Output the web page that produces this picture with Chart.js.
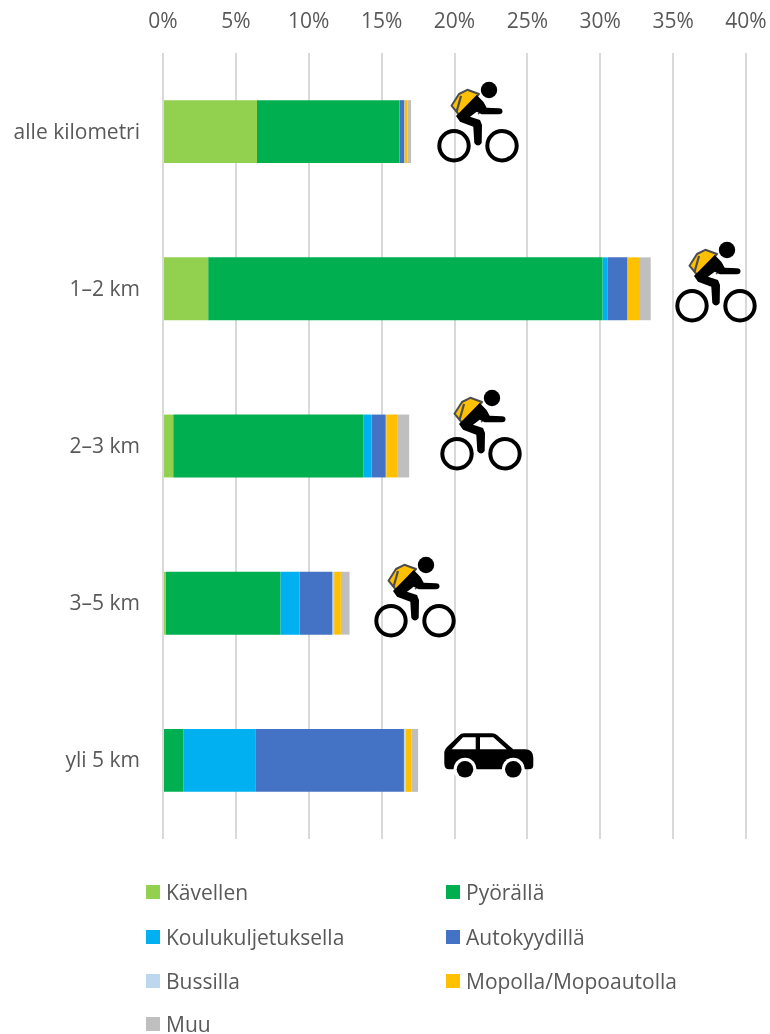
<!DOCTYPE html>
<html lang="fi">
<head>
<meta charset="utf-8">
<title>Koulumatkat</title>
<style>
html,body{margin:0;padding:0;background:#fff;overflow:hidden}
#wrap{position:relative;width:770px;height:1034px;overflow:hidden;font-family:"Open Sans",sans-serif}
canvas{position:absolute;left:0;top:0}
svg.ov{position:absolute;left:0;top:0;pointer-events:none}
.lg{position:absolute;font-size:21px;line-height:24px;color:#595959;white-space:nowrap}
.lg i{position:absolute;left:-20px;top:5px;width:14px;height:14px}
</style>
</head>
<body>
<div id="wrap">
<canvas id="c" width="770" height="1034"></canvas>
<svg class="ov" width="770" height="1034" viewBox="0 0 770 1034" aria-hidden="true">
  <defs>
    <g id="cyclist">
      <circle cx="489" cy="90" r="8.2" fill="#000"/>
      <circle cx="454" cy="145.7" r="14.7" fill="none" stroke="#000" stroke-width="4"/>
      <circle cx="502" cy="145.7" r="14.7" fill="none" stroke="#000" stroke-width="4"/>
      <path d="M484 104 Q485 110 478 114" fill="none" stroke="#595959" stroke-width="1.6"/>
      <path d="M451.5 105.7 L459 94 L467.3 89.8 L479 94 L460 116 Z" fill="#FFC000" stroke="#4d4d4d" stroke-width="2" stroke-linejoin="round"/>
      <path d="M461 96 L456.5 112" stroke="#4d4d4d" stroke-width="2.2" fill="none"/>
      <path d="M456 116 L476.7 95 L483.3 101.7 L486.7 107.7 L499 108.3 Q502.5 108.5 502.5 111.3 Q502.5 114.3 499 114.3 L481.7 114.3 L476.7 111.7 L470 116.7 L480 120 L482 125 L481.7 143 Q478 148 474.3 143 L473.3 126.7 L460 121.7 Z" fill="#000"/>
    </g>
    <g id="car">
      <path d="M444.3 763 L444.3 751.7 Q445 749 447 747 L459 735.5 Q461 733.3 464 733.3 L492 733.3 Q495 733.3 497 735 L513.3 749.3 L525 749.3 Q533.3 749.5 533.3 758 L533.3 765 Q533.3 769.3 529 769.3 L449 769.3 Q444.3 769.3 444.3 763 Z" fill="#000"/>
      <path d="M451.7 749.3 L463 737.3 L475.7 737.3 L475.7 749.3 Z M480 737.3 L493.3 737.3 L506.7 749.3 L480 749.3 Z" fill="#fff"/>
      <circle cx="465" cy="769.3" r="11.5" fill="#fff"/>
      <circle cx="513.3" cy="769.3" r="11.5" fill="#fff"/>
      <circle cx="465" cy="769.3" r="8.3" fill="#000"/>
      <circle cx="513.3" cy="769.3" r="8.3" fill="#000"/>
    </g>
  </defs>
  <use href="#cyclist"/>
  <use href="#cyclist" transform="translate(238 160)"/>
  <use href="#cyclist" transform="translate(3 308)"/>
  <use href="#cyclist" transform="translate(-63 475)"/>
  <use href="#car"/>
</svg>
<div id="legend"></div>
</div>
<script src="https://cdn.jsdelivr.net/npm/chart.js@4/dist/chart.umd.min.js"></script>
<script>
const categories = ["alle kilometri", "1–2 km", "2–3 km", "3–5 km", "yli 5 km"];
const kavellen = [6.45, 3.1, 0.7, 0.2, 0];
const pyoralla = [9.75, 27.05, 13.05, 7.85, 1.4];
const koulukuljetuksella = [0.05, 0.37, 0.57, 1.33, 4.93];
const autokyydilla = [0.3, 1.34, 0.96, 2.24, 10.2];
const bussilla = [0.02, 0.02, 0.03, 0.12, 0.1];
const mopolla = [0.2, 0.78, 0.8, 0.46, 0.41];
const muu = [0.25, 0.8, 0.78, 0.6, 0.46];
const seriesNames = ["Kävellen", "Pyörällä", "Koulukuljetuksella", "Autokyydillä", "Bussilla", "Mopolla/Mopoautolla", "Muu"];
const seriesColors = ["#92D050", "#00B050", "#00B0F0", "#4472C4", "#BDD7EE", "#FFC000", "#BFBFBF"];
const seriesValues = [kavellen, pyoralla, koulukuljetuksella, autokyydilla, bussilla, mopolla, muu];
const tickStep = 5;
const axisMax = 40;

const font = {family: '"Open Sans", sans-serif', size: 21};
new Chart(document.getElementById("c"), {
  type: "bar",
  data: {
    labels: categories,
    datasets: seriesNames.map((n, i) => ({
      label: n,
      data: seriesValues[i],
      backgroundColor: seriesColors[i],
      borderWidth: 0,
      categoryPercentage: 0.4,
      barPercentage: 1
    }))
  },
  options: {
    indexAxis: "y",
    responsive: false,
    animation: false,
    layout: {padding: {left: 0, right: 24, top: 0, bottom: 195}},
    plugins: {legend: {display: false}, tooltip: {enabled: false}},
    scales: {
      x: {
        position: "top",
        stacked: true,
        min: 0,
        max: axisMax,
        afterFit(s) { s.height = 53; s.paddingRight = 0; s.paddingLeft = 0; },
        border: {display: false},
        grid: {color: "#D9D9D9", lineWidth: 2, drawTicks: false},
        ticks: {stepSize: tickStep, color: "#595959", font, padding: 18, maxRotation: 0,
                callback: v => v + "%"}
      },
      y: {
        stacked: true,
        afterFit(s) { s.width = 163; },
        border: {display: false},
        grid: {display: false},
        ticks: {color: "#595959", font, padding: 15, labelOffset: 1}
      }
    }
  }
});

const rowY = [880, 925, 969, 1012];
const colX = [166, 466];
const legend = document.getElementById("legend");
seriesNames.forEach((n, i) => {
  const d = document.createElement("div");
  d.className = "lg";
  d.style.left = colX[i % 2] + "px";
  d.style.top = rowY[Math.floor(i / 2)] + "px";
  const sw = document.createElement("i");
  sw.style.background = seriesColors[i];
  d.appendChild(sw);
  d.appendChild(document.createTextNode(n));
  legend.appendChild(d);
});
</script>
</body>
</html>
